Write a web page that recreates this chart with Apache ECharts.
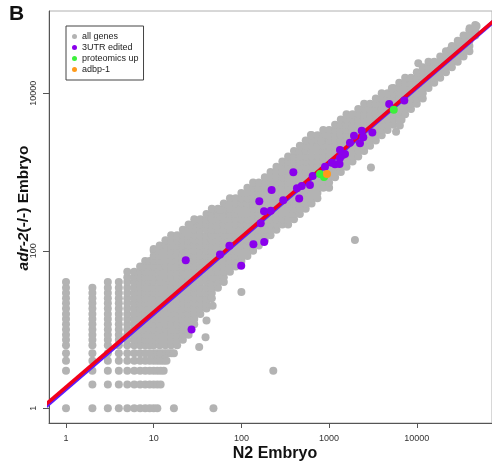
<!DOCTYPE html>
<html>
<head>
<meta charset="utf-8">
<script src="https://cdn.jsdelivr.net/npm/echarts@6/dist/echarts.min.js"></script>
<style>
  html, body { margin: 0; padding: 0; background: #fff; }
  #chart { width: 492px; height: 464px; }
</style>
</head>
<body>
<div id="chart"></div>
<script>
// Read counts per gene: N2 embryo (x) vs adr-2(-/-) embryo (y), log-log.

// Tick positions
const xTicks = [1, 10, 100, 1000, 10000];
const yTicks = [1, 100, 10000];

// All genes, grouped by N2 count (one x value per column)
const greyColX = [1, 2, 3, 4, 5, 6, 7, 8, 9,
  10, 11.7, 13.6, 15.8, 18.5, 21.5, 25, 29, 34, 40, 46, 54, 63, 74, 86,
  100, 117, 136, 158, 185, 215, 251, 293, 341, 398, 464, 541, 631, 736, 858,
  1000, 1170, 1360, 1580, 1850, 2150, 2510, 2930, 3410, 3980, 4640, 5410, 6310, 7360, 8580,
  10000, 11700, 13600, 15800, 18500, 21500, 25100, 29300, 34100, 39800, 46400];
const greyColY = [
  [1, 3, 4, 5, 6.3, 7.4, 8.6, 10, 11.7, 13.6, 15.8, 18.5, 21.5, 25, 29, 34, 40],
  [1, 2, 3, 4, 5, 6.3, 7.4, 8.6, 10, 11.7, 13.6, 15.8, 18.5, 21.5, 25, 29, 34],
  [1, 2, 3, 4, 5, 6.3, 7.4, 8.6, 10, 11.7, 13.6, 15.8, 18.5, 21.5, 25, 29, 34, 40],
  [1, 2, 3, 4, 5, 6.3, 7.4, 8.6, 10, 11.7, 13.6, 15.8, 18.5, 21.5, 25, 29, 34, 40],
  [1, 2, 3, 4, 5, 6.3, 7.4, 8.6, 10, 11.7, 13.6, 15.8, 18.5, 21.5, 25, 29, 34, 40, 46, 54],
  [1, 2, 3, 4, 5, 6.3, 7.4, 8.6, 10, 11.7, 13.6, 15.8, 18.5, 21.5, 25, 29, 34, 40, 46, 54],
  [1, 2, 3, 4, 5, 6.3, 7.4, 8.6, 10, 11.7, 13.6, 15.8, 18.5, 21.5, 25, 29, 34, 40, 46, 54, 63],
  [1, 2, 3, 4, 5, 6.3, 7.4, 8.6, 10, 11.7, 13.6, 15.8, 18.5, 21.5, 25, 29, 34, 40, 46, 54, 63, 74],
  [1, 2, 3, 4, 5, 6.3, 7.4, 8.6, 10, 11.7, 13.6, 15.8, 18.5, 21.5, 25, 29, 34, 40, 46, 54, 63, 74],
  [1, 2, 3, 4, 5, 6.3, 7.4, 8.6, 10, 11.7, 13.6, 15.8, 18.5, 21.5, 25, 29, 34, 40, 46, 54, 63, 74, 86, 100, 105],
  [6.3, 7.4, 8.6, 10, 11.7, 13.6, 15.8, 18.5, 21.5, 25, 29, 34, 40, 46, 54, 63, 74, 86, 100, 117],
  [6.3, 7.4, 8.6, 10, 11.7, 13.6, 15.8, 18.5, 21.5, 25, 29, 34, 40, 46, 54, 63, 74, 86, 100, 117, 136],
  [6.3, 7.4, 8.6, 10, 11.7, 13.6, 15.8, 18.5, 21.5, 25, 29, 34, 40, 46, 54, 63, 74, 86, 100, 117, 136, 158],
  [6.3, 7.4, 8.6, 10, 11.7, 13.6, 15.8, 18.5, 21.5, 25, 29, 34, 40, 46, 54, 63, 74, 86, 100, 117, 136, 158],
  [7.4, 8.6, 10, 11.7, 13.6, 15.8, 18.5, 21.5, 25, 29, 34, 40, 46, 54, 63, 74, 86, 100, 117, 136, 158, 185],
  [8.6, 10, 11.7, 13.6, 15.8, 18.5, 21.5, 25, 29, 34, 40, 46, 54, 63, 74, 86, 100, 117, 136, 158, 185, 215],
  [11.7, 13.6, 15.8, 18.5, 21.5, 25, 29, 34, 40, 46, 54, 63, 74, 86, 100, 117, 136, 158, 185, 215, 251],
  [15.8, 18.5, 21.5, 25, 29, 34, 40, 46, 54, 63, 74, 86, 100, 117, 136, 158, 185, 215, 251],
  [18.5, 21.5, 25, 29, 34, 40, 46, 54, 63, 74, 86, 100, 117, 136, 158, 185, 215, 251, 293],
  [25, 29, 34, 40, 46, 54, 63, 74, 86, 100, 117, 136, 158, 185, 215, 251, 293, 341],
  [34, 40, 46, 54, 63, 74, 86, 100, 117, 136, 158, 185, 215, 251, 293, 341],
  [40, 46, 54, 63, 74, 86, 100, 117, 136, 158, 185, 215, 251, 293, 341, 398],
  [54, 63, 74, 86, 100, 117, 136, 158, 185, 215, 251, 293, 341, 398, 464],
  [63, 74, 86, 100, 117, 136, 158, 185, 215, 251, 293, 341, 398, 464],
  [74, 86, 100, 117, 136, 158, 185, 215, 251, 293, 341, 398, 464, 541],
  [86, 100, 117, 136, 158, 185, 215, 251, 293, 341, 398, 464, 541, 631],
  [100, 117, 136, 158, 185, 215, 251, 293, 341, 398, 464, 541, 631, 736],
  [117, 136, 158, 185, 215, 251, 293, 341, 398, 464, 541, 631, 736],
  [136, 158, 185, 215, 251, 293, 341, 398, 464, 541, 631, 736, 858],
  [158, 185, 215, 251, 293, 341, 398, 464, 541, 631, 736, 858, 1000],
  [185, 215, 251, 293, 341, 398, 464, 541, 631, 736, 858, 1000, 1170],
  [215, 251, 293, 341, 398, 464, 541, 631, 736, 858, 1000, 1170, 1360],
  [215, 251, 293, 341, 398, 464, 541, 631, 736, 858, 1000, 1170, 1360, 1580],
  [251, 293, 341, 398, 464, 541, 631, 736, 858, 1000, 1170, 1360, 1580, 1850],
  [293, 341, 398, 464, 541, 631, 736, 858, 1000, 1170, 1360, 1580, 1850, 2150],
  [341, 398, 464, 541, 631, 736, 858, 1000, 1170, 1360, 1580, 1850, 2150, 2510],
  [398, 464, 541, 631, 736, 858, 1000, 1170, 1360, 1580, 1850, 2150, 2510, 2930],
  [464, 541, 631, 736, 858, 1000, 1170, 1360, 1580, 1850, 2150, 2510, 2930],
  [631, 736, 858, 1000, 1170, 1360, 1580, 1850, 2150, 2510, 2930, 3410],
  [631, 736, 858, 1000, 1170, 1360, 1580, 1850, 2150, 2510, 2930, 3410],
  [858, 1000, 1170, 1360, 1580, 1850, 2150, 2510, 2930, 3410, 3980],
  [1000, 1170, 1360, 1580, 1850, 2150, 2510, 2930, 3410, 3980, 4640],
  [1170, 1360, 1580, 1850, 2150, 2510, 2930, 3410, 3980, 4640, 5410],
  [1360, 1580, 1850, 2150, 2510, 2930, 3410, 3980, 4640, 5410],
  [1580, 1850, 2150, 2510, 2930, 3410, 3980, 4640, 5410, 6310],
  [1850, 2150, 2510, 2930, 3410, 3980, 4640, 5410, 6310, 7360],
  [2150, 2510, 2930, 3410, 3980, 4640, 5410, 6310, 7360],
  [2510, 2930, 3410, 3980, 4640, 5410, 6310, 7360, 8580],
  [2930, 3410, 3980, 4640, 5410, 6310, 7360, 8580, 10000],
  [3410, 3980, 4640, 5410, 6310, 7360, 8580, 10000],
  [3980, 4640, 5410, 6310, 7360, 8580, 10000, 11700],
  [4640, 5410, 6310, 7360, 8580, 10000, 11700, 13600],
  [5410, 6310, 7360, 8580, 10000, 11700, 13600, 15800],
  [6310, 7360, 8580, 10000, 11700, 13600, 15800],
  [7360, 8580, 10000, 11700, 13600, 15800, 18500],
  [8580, 10000, 11700, 13600, 15800, 18500, 21500],
  [11700, 13600, 15800, 18500, 21500, 25100],
  [13600, 15800, 18500, 21500, 25100],
  [15800, 18500, 21500, 25100, 29300],
  [18500, 21500, 25100, 29300, 34100],
  [21500, 25100, 29300, 34100, 39800],
  [25100, 29300, 34100, 39800, 46400],
  [29300, 34100, 39800, 46400, 54100],
  [34100, 39800, 46400, 54100, 63100],
  [54100, 63100, 73600]
];

// Low-count genes at integer N2 counts 11-17
const greyRowX = [11, 11, 12, 11, 12, 13, 11, 12, 13, 14, 11, 12, 13, 14, 15, 16, 17];
const greyRowY = [1, 2, 2, 3, 3, 3, 4, 4, 4, 4, 5, 5, 5, 5, 5, 5, 5];

// Scattered genes away from the main band
const greyOutX = [17, 48, 33, 39, 40, 47, 100, 231, 26, 57, 620, 810, 1970, 3000, 6700, 6400, 5800, 5200, 10400, 24000, 29700, 48000, 40000];
const greyOutY = [1, 1, 6, 8, 13, 20, 30, 3, 213, 330, 2950, 2480, 137, 1140, 4600, 3900, 3250, 11600, 24000, 35500, 45200, 71600, 67000];

// 3'UTR-edited genes
const editedX = [23.2, 27, 57, 73, 99.5, 137, 182, 166, 181, 216, 160, 221, 300, 391, 456, 430, 487, 605, 650,
  898, 1071, 1168, 1314, 1331, 1432, 1518, 1331, 1730, 1923, 2354, 2455, 2250, 3112, 4842, 7200];
const editedY = [76, 10, 90, 116, 64.5, 121, 129, 224, 318, 323, 426, 592, 437, 993, 460, 622, 665, 685, 892,
  1170, 1314, 1254, 1265, 1508, 1646, 1695, 1906, 2360, 2897, 3352, 2763, 2317, 3177, 7315, 8109];

// Genes up in proteomics
const protX = [787, 875, 5455];
const protY = [944, 865, 6170];

// adbp-1
const adbpX = [946];
const adbpY = [944];

// Fitted lines, log10(y) = a + b * log10(x)
const redFit = [0.269, 0.954];
const blueFit = [0.245, 0.957];
const fitRange = [0.3, 200000];

const FONT = '"Liberation Sans", Arial, Helvetica, sans-serif';

function pairs(xs, ys) { return xs.map((x, i) => [x, ys[i]]); }
function fitPoints(fit) {
  return fitRange.map(x => [x, Math.pow(10, fit[0] + fit[1] * Math.log10(x))]);
}
const plainNumber = v => String(Math.round(v));

const greyData = [];
greyColX.forEach((x, i) => greyColY[i].forEach(y => greyData.push([x, y])));
pairs(greyRowX, greyRowY).forEach(p => greyData.push(p));
pairs(greyOutX, greyOutY).forEach(p => greyData.push(p));

const DOT = 8;
const chart = echarts.init(document.getElementById('chart'), null, { renderer: 'canvas' });

chart.setOption({
  animation: false,
  backgroundColor: '#ffffff',
  textStyle: { fontFamily: FONT },
  grid: { left: 49, right: -1, top: 11, bottom: 41, show: true, borderColor: '#b0b0b0', borderWidth: 1 },
  xAxis: {
    type: 'log', logBase: 10, min: 0.64, max: 72000,
    splitLine: { show: false },
    axisLine: { show: true, lineStyle: { color: '#555', width: 1 } },
    axisTick: { show: true, length: 5, lineStyle: { color: '#555' }, customValues: xTicks },
    axisLabel: { customValues: xTicks, formatter: plainNumber, fontSize: 9, color: '#333', margin: 11, fontFamily: FONT }
  },
  yAxis: {
    type: 'log', logBase: 10, min: 0.65, max: 111000,
    splitLine: { show: false },
    axisLine: { show: true, lineStyle: { color: '#555', width: 1 } },
    axisTick: { show: true, length: 6, lineStyle: { color: '#555' }, customValues: yTicks },
    axisLabel: { customValues: yTicks, formatter: plainNumber, fontSize: 9, color: '#333', margin: 11, rotate: 90, fontFamily: FONT }
  },
  legend: {
    data: ['all genes', '3UTR edited', 'proteomics up', 'adbp-1'],
    left: 66, top: 26, orient: 'vertical',
    icon: 'circle', itemWidth: 5, itemHeight: 5, itemGap: 2,
    padding: [6, 5, 6, 6],
    borderColor: '#444', borderWidth: 1, backgroundColor: '#fff',
    textStyle: { fontSize: 9, color: '#222', fontFamily: FONT }
  },
  graphic: [
    { type: 'text', left: 9, top: 4, style: { text: 'B', font: 'bold 21px ' + FONT, fill: '#111' } },
    { type: 'text', x: 275, y: 454, style: { text: 'N2 Embryo', font: 'bold 16px ' + FONT, fill: '#111', align: 'center', verticalAlign: 'middle' } },
    { type: 'text', x: 24, y: 208, rotation: Math.PI / 2,
      style: {
        text: '{i|adr-2}(-/-) Embryo', font: 'bold 15.5px ' + FONT, fill: '#111', align: 'center', verticalAlign: 'middle',
        rich: { i: { font: 'italic bold 15.5px ' + FONT, fill: '#111' } }
      } }
  ],
  series: [
    { name: 'all genes', type: 'scatter', data: greyData, symbolSize: DOT, silent: true,
      itemStyle: { color: '#b3b3b3', opacity: 1 }, z: 1 },
    { name: 'blue fit', type: 'line', data: fitPoints(blueFit), symbol: 'none', silent: true, clip: true,
      lineStyle: { color: '#5d1cff', width: 4 }, z: 2 },
    { name: 'red fit', type: 'line', data: fitPoints(redFit), symbol: 'none', silent: true, clip: true,
      lineStyle: { color: '#f2001a', width: 3.5 }, z: 3 },
    { name: '3UTR edited', type: 'scatter', data: pairs(editedX, editedY), symbolSize: DOT, silent: true,
      itemStyle: { color: '#8a00ec', opacity: 1 }, z: 4 },
    { name: 'proteomics up', type: 'scatter', data: pairs(protX, protY), symbolSize: DOT, silent: true,
      itemStyle: { color: '#3cf03c', opacity: 1 }, z: 5 },
    { name: 'adbp-1', type: 'scatter', data: pairs(adbpX, adbpY), symbolSize: DOT, silent: true,
      itemStyle: { color: '#ff9a1a', opacity: 1 }, z: 6 }
  ]
});
</script>
</body>
</html>
